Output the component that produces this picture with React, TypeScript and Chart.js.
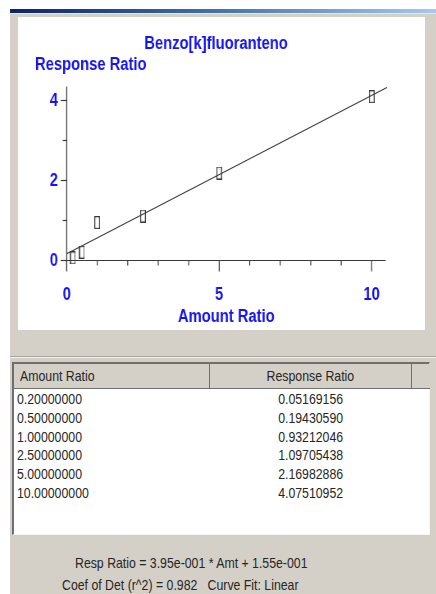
import React, { useEffect, useRef } from "react";
import { Chart, registerables } from "chart.js";

Chart.register(...registerables);

// Calibration: Benzo[k]fluoranteno
const TITLE = "Benzo[k]fluoranteno";
const Y_LABEL = "Response Ratio";
const X_LABEL = "Amount Ratio";
const AMOUNT = [0.2, 0.5, 1.0, 2.5, 5.0, 10.0];
const RESPONSE = [0.05169156, 0.1943059, 0.93212046, 1.09705438, 2.16982886, 4.07510952];

// Linear fit as reported by the software
const FIT_SLOPE = 0.395;
const FIT_INTERCEPT = 0.155;
const FIT_RANGE = [0, 10.5];
const FIT_EQUATION = "Resp Ratio = 3.95e-001 * Amt + 1.55e-001";
const FIT_STATS = "Coef of Det (r^2) = 0.982   Curve Fit: Linear";

// Axis ticks and extents
const X_TICKS = [0, 5, 10];
const X_MINOR = [1, 2, 3, 4, 6, 7, 8, 9];
const Y_TICKS = [0, 2, 4];
const Y_MINOR = [1, 3];
const X_MAX = 10.47;
const Y_MAX = 4.5;
const X_AXIS_END = 10.46;
const Y_AXIS_RANGE = [-0.25, 4.33];

const TABLE_HEAD = ["Amount Ratio", "Response Ratio"];

const BLUE = "#1414f0";
const INK = "#3a3a3a";
const SANS = "'Liberation Sans', Arial, sans-serif";
const PANEL = "#d4d0c8";
// The plot is drawn wide and squeezed horizontally to get a narrow typeface.
const SQUEEZE = 0.82;
const PLOT_W = 496;
const PLOT_H = 313;

function makeMarker(): HTMLCanvasElement {
  const c = document.createElement("canvas");
  c.width = 7;
  c.height = 13;
  const g = c.getContext("2d")!;
  g.strokeStyle = "#383838";
  g.lineWidth = 1.2;
  g.strokeRect(0.6, 0.6, 5.8, 11.8);
  return c;
}

// Axis lines, tick marks, y tick labels and the horizontal y-axis caption
const axisFrame = {
  id: "axisFrame",
  beforeDatasetsDraw(chart: any) {
    const { ctx, scales } = chart;
    const x = scales.x;
    const y = scales.y;
    const px = (v: number) => x.getPixelForValue(v);
    const py = (v: number) => Math.round(y.getPixelForValue(v)) + 0.5;
    ctx.save();
    ctx.strokeStyle = INK;
    ctx.lineWidth = 1.2;
    const seg = (x1: number, y1: number, x2: number, y2: number) => {
      ctx.beginPath();
      ctx.moveTo(x1, y1);
      ctx.lineTo(x2, y2);
      ctx.stroke();
    };
    const x0 = px(0);
    const y0 = py(0);
    seg(x0, py(Y_AXIS_RANGE[0]), x0, py(Y_AXIS_RANGE[1]));
    seg(x0, y0, px(X_AXIS_END), y0);
    Y_TICKS.forEach((v) => seg(x0 - 7.3, py(v), x0, py(v)));
    Y_MINOR.forEach((v) => seg(x0 - 4.9, py(v), x0, py(v)));
    X_TICKS.forEach((v) => seg(px(v), y0, px(v), y0 + 11));
    X_MINOR.forEach((v) => seg(px(v), y0, px(v), y0 + 5));

    ctx.fillStyle = BLUE;
    ctx.font = `bold 18px ${SANS}`;
    ctx.textAlign = "right";
    ctx.textBaseline = "middle";
    Y_TICKS.forEach((v) => ctx.fillText(String(v), x0 - 10.6, y.getPixelForValue(v) + 1));
    ctx.restore();
  },
  afterDraw(chart: any) {
    const { ctx, chartArea } = chart;
    ctx.save();
    ctx.fillStyle = BLUE;
    ctx.font = `bold 18px ${SANS}`;
    ctx.textAlign = "left";
    ctx.textBaseline = "middle";
    ctx.fillText(Y_LABEL, chartArea.left - 38.7, chartArea.top - 15);
    ctx.restore();
  },
};

function CalibrationChart() {
  const ref = useRef<HTMLCanvasElement | null>(null);
  useEffect(() => {
    if (!ref.current) return;
    const font = { family: SANS, size: 18, weight: "bold" as const, lineHeight: 1.2 };
    const chart = new Chart(ref.current, {
      type: "scatter",
      data: {
        datasets: [
          {
            data: AMOUNT.map((a, i) => ({ x: a, y: RESPONSE[i] })),
            pointStyle: makeMarker(),
            pointRadius: 6,
            showLine: false,
            clip: false,
          },
          {
            type: "line",
            data: FIT_RANGE.map((a) => ({ x: a, y: FIT_SLOPE * a + FIT_INTERCEPT })),
            borderColor: INK,
            borderWidth: 1.3,
            pointRadius: 0,
            clip: false,
          } as any,
        ],
      },
      options: {
        animation: false,
        responsive: false,
        events: [],
        layout: { padding: { left: 34.1, right: 47.2, top: 0, bottom: 0 } },
        plugins: {
          legend: { display: false },
          tooltip: { enabled: false },
          title: {
            display: true,
            text: TITLE,
            color: BLUE,
            font,
            padding: { top: 16, bottom: 25 },
          },
        },
        scales: {
          x: {
            type: "linear",
            min: 0,
            max: X_MAX,
            grid: { display: false },
            border: { display: false },
            afterBuildTicks: (s: any) => {
              s.ticks = X_TICKS.map((v) => ({ value: v }));
            },
            afterFit: (s: any) => {
              s.height = 60;
            },
            ticks: {
              color: BLUE,
              font,
              padding: 6,
              autoSkip: false,
              maxRotation: 0,
              callback: (v: any) => String(v),
            },
            title: {
              display: true,
              text: X_LABEL,
              color: BLUE,
              font,
              padding: { top: 0, bottom: 2 },
            },
          },
          y: {
            type: "linear",
            min: Y_AXIS_RANGE[0],
            max: Y_MAX,
            grid: { display: false },
            border: { display: false },
            afterBuildTicks: (s: any) => {
              s.ticks = Y_TICKS.map((v) => ({ value: v }));
            },
            afterFit: (s: any) => {
              s.width = 25.3;
            },
            ticks: { display: false },
          },
        },
      },
      plugins: [axisFrame],
    });
    return () => chart.destroy();
  }, []);
  return (
    <div style={{ width: PLOT_W, height: PLOT_H, transform: `scaleX(${SQUEEZE})`, transformOrigin: "left top" }}>
      <canvas ref={ref} width={PLOT_W} height={PLOT_H} style={{ display: "block", width: PLOT_W, height: PLOT_H }} />
    </div>
  );
}

const abs = (left: number, top: number, width: number, height: number): React.CSSProperties => ({
  position: "absolute",
  left,
  top,
  width,
  height,
});

function Narrow({ children, origin }: { children: React.ReactNode; origin: string }) {
  return (
    <span style={{ display: "inline-block", whiteSpace: "pre", transform: `scaleX(${SQUEEZE})`, transformOrigin: origin }}>
      {children}
    </span>
  );
}

export default function App() {
  const rowH = 18.8;
  const cellText: React.CSSProperties = { fontSize: 15, color: "#262626", whiteSpace: "nowrap" };
  return (
    <div style={{ position: "fixed", left: 0, top: 0, width: 436, height: 594, background: "#ffffff", overflow: "hidden", fontFamily: SANS }}>
      <div style={{ ...abs(10, 9, 426, 4), background: "linear-gradient(to right, #0a246a, #3a6ea5 45%, #a6caf0)" }} />
      <div style={{ ...abs(10, 13, 426, 581), background: PANEL }} />
      <div style={{ ...abs(10, 13, 426, 1), background: "#ece9e2" }} />
      <div style={{ ...abs(18, 17, 407, 313), background: "#ffffff", overflow: "hidden" }}>
        <CalibrationChart />
      </div>
      <div style={{ ...abs(10, 356, 426, 1), background: "#aaa69e" }} />
      <div style={{ ...abs(10, 357, 426, 1), background: "#f2f0ea" }} />

      {/* results table */}
      <div
        style={{
          ...abs(12, 362, 418, 173),
          boxSizing: "border-box",
          background: "#ffffff",
          borderTop: "2px solid #6f6f6f",
          borderLeft: "2px solid #6f6f6f",
          borderRight: "1px solid #f4f4f4",
          borderBottom: "1px solid #f4f4f4",
        }}
      >
        <div style={{ ...abs(0, 0, 416, 25), background: PANEL, borderBottom: "1px solid #707070", boxSizing: "border-box" }}>
          <div style={{ ...abs(0, 0, 196, 24), ...cellText, borderRight: "1px solid #707070", boxSizing: "border-box", paddingLeft: 6, lineHeight: "24px" }}>
            <Narrow origin="left center">{TABLE_HEAD[0]}</Narrow>
          </div>
          <div style={{ ...abs(196, 0, 202, 24), ...cellText, borderRight: "1px solid #707070", boxSizing: "border-box", textAlign: "center", lineHeight: "24px" }}>
            <Narrow origin="center center">{TABLE_HEAD[1]}</Narrow>
          </div>
        </div>
        {AMOUNT.map((a, i) => (
          <div key={i} style={{ ...abs(0, 26 + i * rowH, 416, rowH), ...cellText, lineHeight: `${rowH}px` }}>
            <div style={{ ...abs(3, 0, 190, rowH) }}>
              <Narrow origin="left center">{a.toFixed(8)}</Narrow>
            </div>
            <div style={{ ...abs(196, 0, 202, rowH), textAlign: "center" }}>
              <Narrow origin="center center">{RESPONSE[i].toFixed(8)}</Narrow>
            </div>
          </div>
        ))}
      </div>

      <div style={{ ...abs(75, 555, 340, 16), ...cellText, lineHeight: "16px" }}>
        <Narrow origin="left center">{FIT_EQUATION}</Narrow>
      </div>
      <div style={{ ...abs(62, 577, 340, 16), ...cellText, lineHeight: "16px" }}>
        <Narrow origin="left center">{FIT_STATS}</Narrow>
      </div>
    </div>
  );
}
